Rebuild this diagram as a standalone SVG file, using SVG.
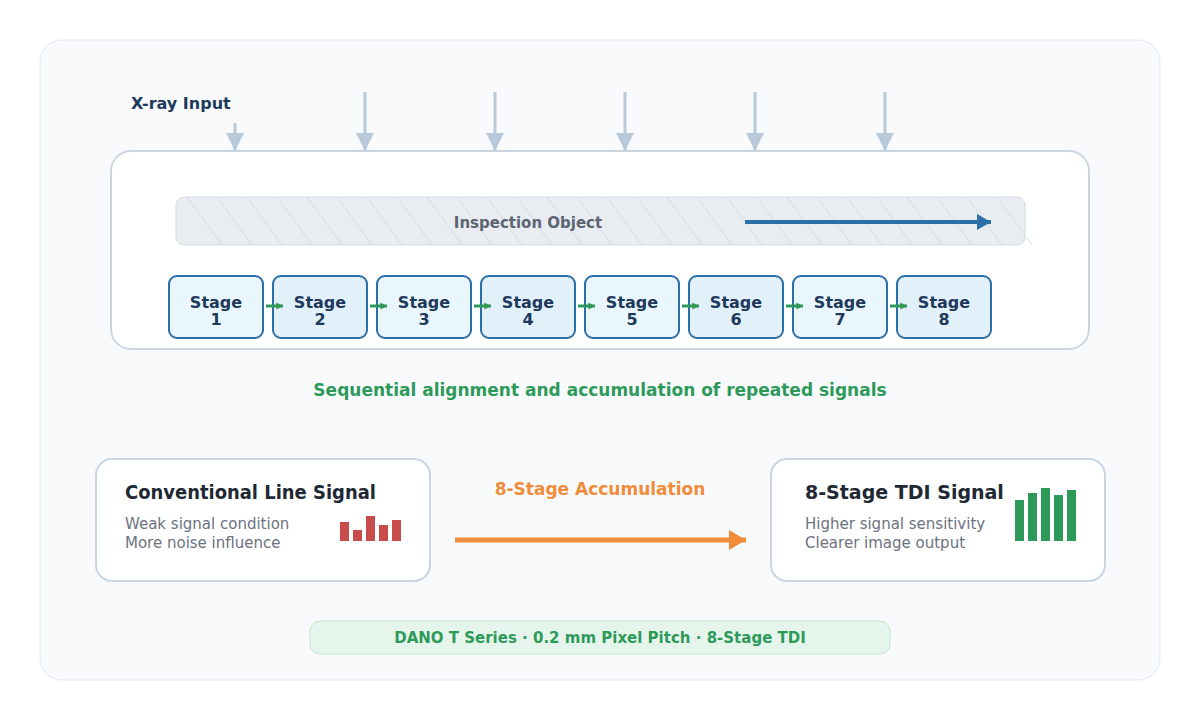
<svg xmlns="http://www.w3.org/2000/svg" width="1200" height="720" viewBox="0 0 1200 720">
<defs>
<style>
text{font-family:"DejaVu Sans","Noto Sans",sans-serif}
.stage{stroke:#2b6ea8;stroke-width:2}
.st{font-size:16px;font-weight:bold;fill:#1e3a5a;text-anchor:middle}
.ray{stroke:#b8c9d9;stroke-width:3}
.hatch{stroke:#d6dce4;stroke-width:1}
.card{fill:#ffffff;stroke:#cbd5e1;stroke-width:2}
.ct{font-size:19px;font-weight:bold;fill:#1f2933}
.cs{font-size:15px;fill:#6b7280}
.g{stroke:#2e9a5a;stroke-width:3}
</style>
<marker id="rayhead" markerWidth="6" markerHeight="6" refX="6" refY="3" orient="auto" markerUnits="strokeWidth"><path d="M0,0 L6,3 L0,6 Z" fill="#b8c9d9"/></marker>
<marker id="ghead" markerWidth="2.2" markerHeight="2.4" refX="2.2" refY="1.2" orient="auto" markerUnits="strokeWidth"><path d="M0,0 L2.2,1.2 L0,2.4 Z" fill="#2e9a5a"/></marker>
<marker id="bhead" markerWidth="3.5" markerHeight="4" refX="3.5" refY="2" orient="auto" markerUnits="strokeWidth"><path d="M0,0 L3.5,2 L0,4 Z" fill="#2b6ea8"/></marker>
<marker id="ohead" markerWidth="3.4" markerHeight="4" refX="3.4" refY="2" orient="auto" markerUnits="strokeWidth"><path d="M0,0 L3.4,2 L0,4 Z" fill="#f08c3a"/></marker>
</defs>
<rect x="40" y="40" width="1120" height="640" rx="22" fill="#f8fafc" stroke="#e2e8f0" stroke-width="1"/>
<text x="131" y="109" font-size="16" font-weight="bold" fill="#1e3a5a">X-ray Input</text>
<g id="inspection-frame">
<rect x="111" y="151" width="978" height="198" rx="20" fill="#ffffff" stroke="#cbd5e1" stroke-width="2"/>
</g>
<g id="inspection-object">
<rect x="176" y="197" width="849" height="48" rx="8" fill="#e9edf2" stroke="#d5dbe3" stroke-width="1"/>
<g class="hatch">
<line x1="187" y1="197" x2="222" y2="245"/><line x1="217" y1="197" x2="252" y2="245"/><line x1="247" y1="197" x2="282" y2="245"/><line x1="277" y1="197" x2="312" y2="245"/><line x1="307" y1="197" x2="342" y2="245"/><line x1="337" y1="197" x2="372" y2="245"/><line x1="367" y1="197" x2="402" y2="245"/><line x1="397" y1="197" x2="432" y2="245"/><line x1="427" y1="197" x2="462" y2="245"/><line x1="457" y1="197" x2="492" y2="245"/><line x1="487" y1="197" x2="522" y2="245"/><line x1="517" y1="197" x2="552" y2="245"/><line x1="547" y1="197" x2="582" y2="245"/><line x1="577" y1="197" x2="612" y2="245"/><line x1="607" y1="197" x2="642" y2="245"/><line x1="637" y1="197" x2="672" y2="245"/><line x1="667" y1="197" x2="702" y2="245"/><line x1="697" y1="197" x2="732" y2="245"/><line x1="727" y1="197" x2="762" y2="245"/><line x1="757" y1="197" x2="792" y2="245"/><line x1="787" y1="197" x2="822" y2="245"/><line x1="817" y1="197" x2="852" y2="245"/><line x1="847" y1="197" x2="882" y2="245"/><line x1="877" y1="197" x2="912" y2="245"/><line x1="907" y1="197" x2="942" y2="245"/><line x1="937" y1="197" x2="972" y2="245"/><line x1="967" y1="197" x2="1002" y2="245"/><line x1="997" y1="197" x2="1032" y2="245"/>
</g>
<text x="528" y="228" font-size="15" font-weight="bold" fill="#5b6470" text-anchor="middle">Inspection Object</text>
</g>
<g id="stage-1"><rect class="stage" x="169" y="276" width="94" height="62" rx="8" fill="#eaf6fd"/><text class="st" x="216" y="308">Stage</text><text class="st" x="216" y="325">1</text></g>
<g id="stage-2"><rect class="stage" x="273" y="276" width="94" height="62" rx="8" fill="#e2f0fa"/><text class="st" x="320" y="308">Stage</text><text class="st" x="320" y="325">2</text></g>
<g id="stage-3"><rect class="stage" x="377" y="276" width="94" height="62" rx="8" fill="#eaf6fd"/><text class="st" x="424" y="308">Stage</text><text class="st" x="424" y="325">3</text></g>
<g id="stage-4"><rect class="stage" x="481" y="276" width="94" height="62" rx="8" fill="#e2f0fa"/><text class="st" x="528" y="308">Stage</text><text class="st" x="528" y="325">4</text></g>
<g id="stage-5"><rect class="stage" x="585" y="276" width="94" height="62" rx="8" fill="#eaf6fd"/><text class="st" x="632" y="308">Stage</text><text class="st" x="632" y="325">5</text></g>
<g id="stage-6"><rect class="stage" x="689" y="276" width="94" height="62" rx="8" fill="#e2f0fa"/><text class="st" x="736" y="308">Stage</text><text class="st" x="736" y="325">6</text></g>
<g id="stage-7"><rect class="stage" x="793" y="276" width="94" height="62" rx="8" fill="#eaf6fd"/><text class="st" x="840" y="308">Stage</text><text class="st" x="840" y="325">7</text></g>
<g id="stage-8"><rect class="stage" x="897" y="276" width="94" height="62" rx="8" fill="#e2f0fa"/><text class="st" x="944" y="308">Stage</text><text class="st" x="944" y="325">8</text></g>
<g id="connectors">
<line class="ray" x1="235" y1="123" x2="235" y2="151" marker-end="url(#rayhead)"/>
<line class="ray" x1="365" y1="92" x2="365" y2="151" marker-end="url(#rayhead)"/>
<line class="ray" x1="495" y1="92" x2="495" y2="151" marker-end="url(#rayhead)"/>
<line class="ray" x1="625" y1="92" x2="625" y2="151" marker-end="url(#rayhead)"/>
<line class="ray" x1="755" y1="92" x2="755" y2="151" marker-end="url(#rayhead)"/>
<line class="ray" x1="885" y1="92" x2="885" y2="151" marker-end="url(#rayhead)"/>
<line x1="745" y1="222" x2="991" y2="222" stroke="#2b6ea8" stroke-width="4" marker-end="url(#bhead)"/>
<line class="g" x1="266" y1="306" x2="283" y2="306" marker-end="url(#ghead)"/>
<line class="g" x1="370" y1="306" x2="387" y2="306" marker-end="url(#ghead)"/>
<line class="g" x1="474" y1="306" x2="491" y2="306" marker-end="url(#ghead)"/>
<line class="g" x1="578" y1="306" x2="595" y2="306" marker-end="url(#ghead)"/>
<line class="g" x1="682" y1="306" x2="699" y2="306" marker-end="url(#ghead)"/>
<line class="g" x1="786" y1="306" x2="803" y2="306" marker-end="url(#ghead)"/>
<line class="g" x1="890" y1="306" x2="907" y2="306" marker-end="url(#ghead)"/>
<line x1="455" y1="540" x2="746" y2="540" stroke="#f08c3a" stroke-width="5" marker-end="url(#ohead)"/>
</g>
<text x="600" y="396" font-size="17" font-weight="bold" fill="#2e9a5a" text-anchor="middle">Sequential alignment and accumulation of repeated signals</text>
<g id="conventional">
<rect class="card" x="96" y="459" width="334" height="122" rx="16"/>
<text class="ct" x="125" y="499" textLength="251" lengthAdjust="spacingAndGlyphs">Conventional Line Signal</text>
<text class="cs" x="125" y="529">Weak signal condition</text>
<text class="cs" x="125" y="548">More noise influence</text>
<g fill="#c94c4c">
<rect x="340" y="522" width="9" height="19"/><rect x="353" y="530" width="9" height="11"/><rect x="366" y="516" width="9" height="25"/><rect x="379" y="525" width="9" height="16"/><rect x="392" y="520" width="9" height="21"/>
</g>
</g>
<text x="600" y="495" font-size="17" font-weight="bold" fill="#f08c3a" text-anchor="middle">8-Stage Accumulation</text>
<g id="tdi">
<rect class="card" x="771" y="459" width="334" height="122" rx="16"/>
<text class="ct" x="805" y="499">8-Stage TDI Signal</text>
<text class="cs" x="805" y="529">Higher signal sensitivity</text>
<text class="cs" x="805" y="548">Clearer image output</text>
<g fill="#2e9a5a">
<rect x="1015" y="500" width="9" height="41"/><rect x="1028" y="493" width="9" height="48"/><rect x="1041" y="488" width="9" height="53"/><rect x="1054" y="495" width="9" height="46"/><rect x="1067" y="490" width="9" height="51"/>
</g>
</g>
<g id="spec">
<rect x="310" y="621" width="580" height="33" rx="10" fill="#e6f5ec" stroke="#bfe5cc" stroke-width="1"/>
<text x="600" y="643" font-size="15" font-weight="bold" fill="#2e9a5a" text-anchor="middle">DANO T Series · 0.2 mm Pixel Pitch · 8-Stage TDI</text>
</g>
</svg>
